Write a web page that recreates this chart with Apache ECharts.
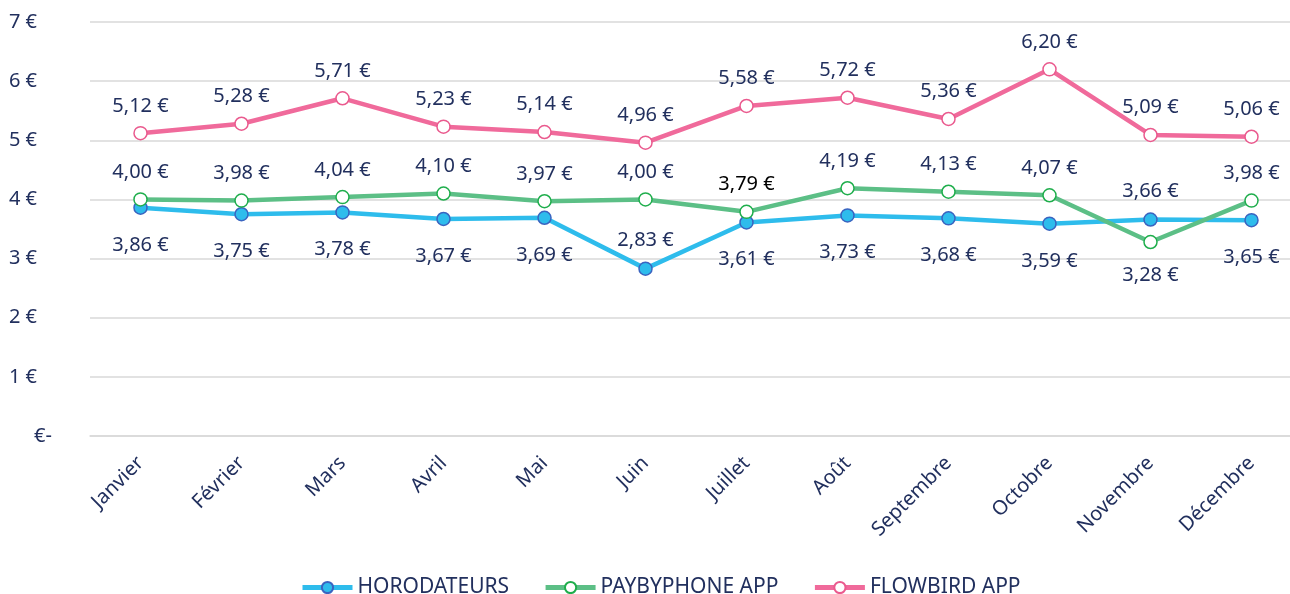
<!DOCTYPE html>
<html>
<head>
<meta charset="utf-8">
<script src="https://cdn.jsdelivr.net/npm/echarts@6/dist/echarts.min.js"></script>
<style>
  html, body { margin: 0; padding: 0; background: #fff; }
  #chart { width: 1290px; height: 594px; }
</style>
</head>
<body>
<div id="chart"></div>
<script>
// données mensuelles
const months = ['Janvier', 'Février', 'Mars', 'Avril', 'Mai', 'Juin', 'Juillet', 'Août', 'Septembre', 'Octobre', 'Novembre', 'Décembre']
const horodateurs = [3.86, 3.75, 3.78, 3.67, 3.69, 2.83, 3.61, 3.73, 3.68, 3.59, 3.66, 3.65]
const paybyphone = [4.00, 3.98, 4.04, 4.10, 3.97, 4.00, 3.79, 4.19, 4.13, 4.07, 3.28, 3.98]
const flowbird = [5.12, 5.28, 5.71, 5.23, 5.14, 4.96, 5.58, 5.72, 5.36, 6.20, 5.09, 5.06]
const yTicks = [0, 1, 2, 3, 4, 5, 6, 7]

// étiquettes qui changent de côté
const blueAbove = [5, 10]
const greenBelow = [10]

const navy = '#22305e'
const fontFamily = 'Noto Sans'

const euro = v => v.toFixed(2).replace('.', ',') + ' €'

const chart = echarts.init(document.getElementById('chart'))

const makeSeries = (name, values, lineColor, fill, border, labelFor) => ({
  name,
  type: 'line',
  data: values.map((v, i) => ({ value: v, label: labelFor(i) })),
  symbol: 'circle',
  symbolSize: 13,
  lineStyle: { color: lineColor, width: 4.5 },
  itemStyle: { color: fill, borderColor: border, borderWidth: 1.5 },
  label: {
    show: true,
    color: navy,
    fontFamily,
    fontSize: 20,
    formatter: p => euro(p.value)
  },
  emphasis: { disabled: true }
})

const option = {
  animation: false,
  textStyle: { fontFamily },
  grid: { left: 90, top: 22, bottom: 158, width: 1212, outerBoundsMode: 'none' },
  legend: {
    bottom: -9,
    left: 295,
    itemWidth: 50,
    itemHeight: 14,
    itemGap: 34,
    lineStyle: { width: 5 },
    textStyle: { color: navy, fontSize: 21, fontFamily },
    data: ['HORODATEURS', 'PAYBYPHONE APP', 'FLOWBIRD APP']
  },
  xAxis: {
    type: 'category',
    data: months,
    boundaryGap: true,
    axisLine: { lineStyle: { color: '#d9d9d9', width: 1.5 } },
    axisTick: { show: false },
    axisLabel: { rotate: 45, color: navy, fontSize: 20, fontFamily, margin: 24 }
  },
  yAxis: {
    type: 'value',
    min: yTicks[0],
    max: yTicks[yTicks.length - 1],
    interval: 1,
    axisLine: { show: false },
    axisTick: { show: false },
    splitLine: { lineStyle: { color: '#d9d9d9', width: 1.5 } },
    axisLabel: {
      color: navy,
      fontSize: 20,
      fontFamily,
      margin: 38,
      formatter: v => v === 0 ? '€-' : '{p|' + v + ' €}',
      rich: { p: { color: navy, fontSize: 20, fontFamily, padding: [0, 15, 0, 0] } }
    }
  },
  series: [
    makeSeries('HORODATEURS', horodateurs, '#2ebcec', '#2ebcec', '#3a64c0',
      i => blueAbove.includes(i) ? { position: 'top', distance: 11 } : { position: 'bottom', distance: 20 }),
    makeSeries('PAYBYPHONE APP', paybyphone, '#5cbf86', '#ffffff', '#1fae4c',
      i => greenBelow.includes(i) ? { position: 'bottom', distance: 16 }
        : (i === 6 ? { position: 'top', distance: 10, color: '#000' } : { position: 'top', distance: 10 })),
    makeSeries('FLOWBIRD APP', flowbird, '#f06a9b', '#ffffff', '#ea5a8e',
      () => ({ position: 'top', distance: 10 }))
  ]
}

chart.setOption(option)
</script>
</body>
</html>
